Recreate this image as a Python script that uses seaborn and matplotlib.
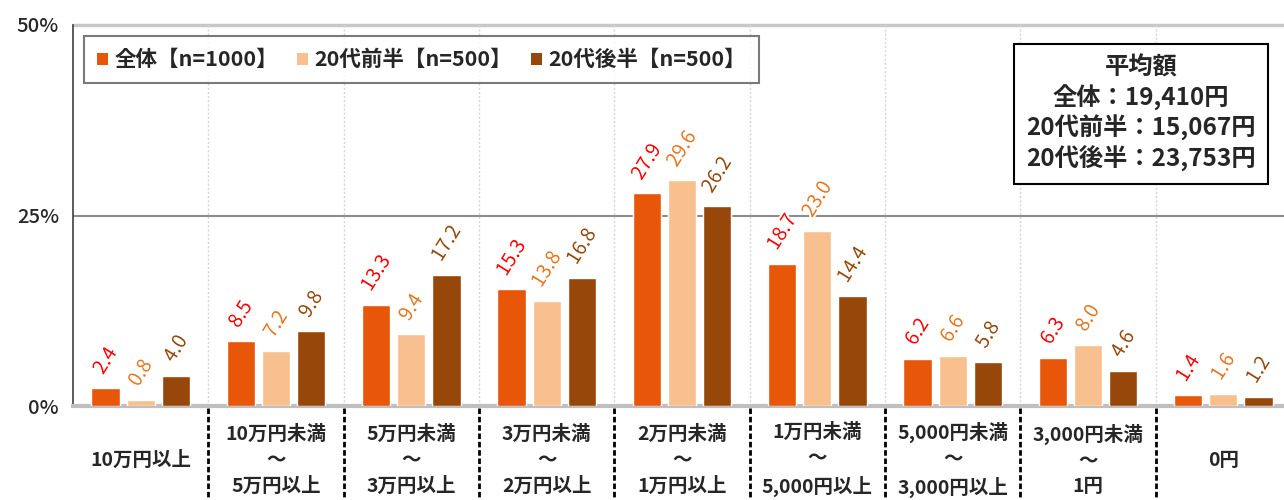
import matplotlib
matplotlib.use("Agg")
import matplotlib.pyplot as plt
import matplotlib.patheffects as pe
from matplotlib.patches import Patch
import matplotlib.transforms as mtrans
import seaborn as sns
import pandas as pd

# data
categories = ["10万円以上", "10万円未満\n～\n5万円以上", "5万円未満\n～\n3万円以上",
              "3万円未満\n～\n2万円以上", "2万円未満\n～\n1万円以上", "1万円未満\n～\n5,000円以上",
              "5,000円未満\n～\n3,000円以上", "3,000円未満\n～\n1円", "0円"]
groups = ["全体【n=1000】", "20代前半【n=500】", "20代後半【n=500】"]
zentai = [2.4, 8.5, 13.3, 15.3, 27.9, 18.7, 6.2, 6.3, 1.4]
zenhan = [0.8, 7.2, 9.4, 13.8, 29.6, 23.0, 6.6, 8.0, 1.6]
kohan = [4.0, 9.8, 17.2, 16.8, 26.2, 14.4, 5.8, 4.6, 1.2]
avg_text = "平均額\n全体：19,410円\n20代前半：15,067円\n20代後半：23,753円"

bar_colors = ["#E8560A", "#F9C08F", "#974709"]
label_colors = ["#FF0000", "#E8761E", "#974709"]

df = pd.DataFrame({
    "cat": categories * 3,
    "group": [groups[0]] * 9 + [groups[1]] * 9 + [groups[2]] * 9,
    "value": zentai + zenhan + kohan,
})

sns.set_theme(style="white")
plt.rcParams["font.family"] = ["Noto Sans CJK JP", "DejaVu Sans"]

fig = plt.figure(figsize=(12.84, 5), dpi=100)
ax = fig.add_axes([73 / 1284, 94 / 500, 1218 / 1284, 381 / 500])

sns.barplot(data=df, x="cat", y="value", hue="group", palette=bar_colors,
            width=0.78, gap=0.2, ax=ax, legend=False, saturation=1, zorder=3)

ax.set_xlim(-0.5, 8.5)
ax.set_ylim(0, 50)
ax.set_xlabel("")
ax.set_ylabel("")
ax.set_xticks([])
ax.set_yticks([0, 25, 50])
ax.set_yticklabels(["0%", "25%", "50%"], fontsize=14.5, fontweight="medium")
ax.tick_params(axis="y", length=0, pad=10)

for s in ["top", "right"]:
    ax.spines[s].set_visible(False)
ax.spines["left"].set_color("#404040")
ax.spines["left"].set_linewidth(1.2)
ax.spines["bottom"].set_color("#bfbfbf")
ax.spines["bottom"].set_linewidth(3)

ax.axhline(25, color="#8c8c8c", lw=1.5, zorder=1)
ax.axhline(50, color="#c8c8c8", lw=2.5, zorder=1, clip_on=False)
ax.vlines([i + 0.5 for i in range(9)], 0, 50, colors="#d5d5d5", linestyles=(0, (1.5, 1.5)),
          lw=1, zorder=1)

# value labels
for cont, col in zip(ax.containers, label_colors):
    for rect in cont:
        h = rect.get_height()
        ax.annotate(f"{h:.1f}", (rect.get_x() + rect.get_width() / 2, h),
                    xytext=(0, 7), textcoords="offset points", ha="center", va="bottom",
                    rotation=58, fontsize=14, color=col, zorder=5,
                    path_effects=[pe.withStroke(linewidth=3, foreground="white")])

# category labels under axis
trans = mtrans.blended_transform_factory(ax.transData, fig.transFigure)
for i, c in enumerate(categories):
    ax.text(i, 40 / 500, c, transform=trans, ha="center", va="center",
            fontsize=14, fontweight="bold", linespacing=1.45, clip_on=False)
for i in range(8):
    ax.plot([i + 0.5, i + 0.5], [92 / 500, 0], transform=trans, color="black",
            lw=2, ls=(0, (2, 1)), clip_on=False)

handles = [Patch(facecolor=c, edgecolor="none") for c in bar_colors]
leg = ax.legend(handles, groups, loc="upper left", bbox_to_anchor=(0.009, 0.97),
                ncol=3, frameon=True, fancybox=False, borderaxespad=0,
                prop={"weight": "bold", "size": 15.5}, handlelength=0.5, handleheight=0.5,
                handletextpad=0.3, columnspacing=0.9, borderpad=0.6)
leg.get_frame().set_edgecolor("#595959")
leg.get_frame().set_linewidth(1.5)

fig.text(1141 / 1284, 1 - 114 / 500, avg_text, ha="center", va="center",
         fontsize=17.5, fontweight="bold", linespacing=1.22,
         bbox=dict(boxstyle="square,pad=0.5", facecolor="white", edgecolor="black", lw=1.5))

fig.savefig("out.png", dpi=100)
